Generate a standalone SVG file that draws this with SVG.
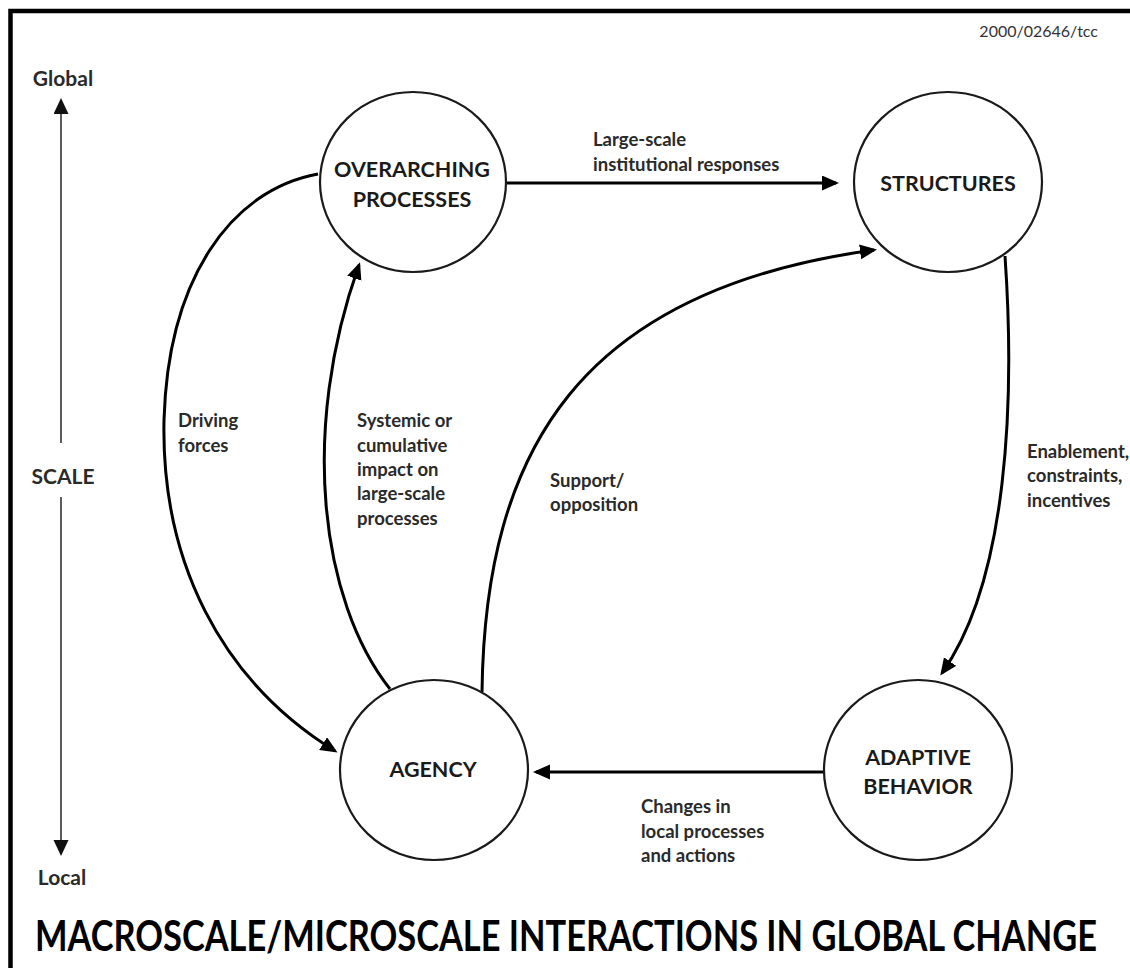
<svg xmlns="http://www.w3.org/2000/svg" width="1130" height="968" viewBox="0 0 1130 968">
<style>
.node{fill:#fff;stroke:#1a1a1a;stroke-width:2.2}
.nt{font-family:Lato,"Liberation Sans",sans-serif;font-weight:700;font-size:21.5px;fill:#1a1a1a;text-anchor:middle}
.lb{font-family:Lato,"Liberation Sans",sans-serif;font-weight:700;font-size:18.5px;fill:#2a2a2a}
.conn{fill:none;stroke:#000;stroke-width:3}
.axis{fill:none;stroke:#333;stroke-width:1.6}
.ax{font-family:Lato,"Liberation Sans",sans-serif;font-weight:700;font-size:21px;fill:#2a2a2a}
</style>
<defs>
<marker id="ah" markerUnits="userSpaceOnUse" markerWidth="18" markerHeight="16" refX="14" refY="7.5" orient="auto">
<path d="M0,0 L17,7.5 L0,15 Z" fill="#000"/>
</marker>
<marker id="axh" markerUnits="userSpaceOnUse" markerWidth="17" markerHeight="16" refX="1" refY="7.5" orient="auto">
<path d="M0,0 L16,7.5 L0,15 Z" fill="#111"/>
</marker>
</defs>
<rect x="0" y="0" width="1130" height="968" fill="#fff"/>
<path d="M10.5,968 V11 H1130" fill="none" stroke="#000" stroke-width="4.5"/>
<text x="1098" y="37" text-anchor="end" font-family="Lato,'Liberation Sans',sans-serif" font-size="16" fill="#333">2000/02646/tcc</text>

<g id="scale">
<path class="axis" d="M61,443 V113" marker-end="url(#axh)"/>
<path class="axis" d="M61,497 V841" marker-end="url(#axh)"/>
<text class="ax" x="63" y="86" text-anchor="middle">Global</text>
<text class="ax" x="63" y="484" text-anchor="middle">SCALE</text>
<text class="ax" x="62" y="885" text-anchor="middle">Local</text>
</g>

<g id="connectors">
<path class="conn" d="M506,183 H836" marker-end="url(#ah)"/>
<path class="conn" d="M318,174 C230,190 168,280 164,420 C161,560 220,680 335,751" marker-end="url(#ah)"/>
<path class="conn" d="M390,689 C320,600 300,430 359,265" marker-end="url(#ah)"/>
<path class="conn" d="M482,692 C485,450 580,290 874,250" marker-end="url(#ah)"/>
<path class="conn" d="M1005,256 C1015,400 1008,580 942,673" marker-end="url(#ah)"/>
<path class="conn" d="M824,772 H536" marker-end="url(#ah)"/>
</g>

<g id="labels">
<text class="lb" x="593" y="146">Large-scale</text>
<text class="lb" x="593" y="171">institutional responses</text>
<text class="lb" x="178" y="427">Driving</text>
<text class="lb" x="178" y="452">forces</text>
<text class="lb" x="357" y="427">Systemic or</text>
<text class="lb" x="357" y="452">cumulative</text>
<text class="lb" x="357" y="476">impact on</text>
<text class="lb" x="357" y="500">large-scale</text>
<text class="lb" x="357" y="525">processes</text>
<text class="lb" x="550" y="487">Support/</text>
<text class="lb" x="550" y="511">opposition</text>
<text class="lb" x="1027" y="458">Enablement,</text>
<text class="lb" x="1027" y="482">constraints,</text>
<text class="lb" x="1027" y="507">incentives</text>
<text class="lb" x="641" y="813">Changes in</text>
<text class="lb" x="641" y="838">local processes</text>
<text class="lb" x="641" y="862">and actions</text>
</g>

<g id="overarching">
<ellipse class="node" cx="413" cy="182" rx="93" ry="90"/>
<text class="nt" x="412" y="177">OVERARCHING</text>
<text class="nt" x="412" y="207">PROCESSES</text>
</g>
<g id="structures">
<ellipse class="node" cx="948" cy="182" rx="94" ry="90"/>
<text class="nt" x="948" y="191">STRUCTURES</text>
</g>
<g id="agency">
<ellipse class="node" cx="434" cy="770" rx="94" ry="90"/>
<text class="nt" x="433" y="777">AGENCY</text>
</g>
<g id="adaptive">
<ellipse class="node" cx="918" cy="770" rx="94" ry="90"/>
<text class="nt" x="918" y="765">ADAPTIVE</text>
<text class="nt" x="918" y="794">BEHAVIOR</text>
</g>

<text transform="translate(566,951) scale(1,1.19)" x="0" y="0" text-anchor="middle" font-family="Lato,'Liberation Sans',sans-serif" font-weight="700" font-size="35.4" fill="#000" textLength="1062" lengthAdjust="spacingAndGlyphs">MACROSCALE/MICROSCALE INTERACTIONS IN GLOBAL CHANGE</text>
</svg>
